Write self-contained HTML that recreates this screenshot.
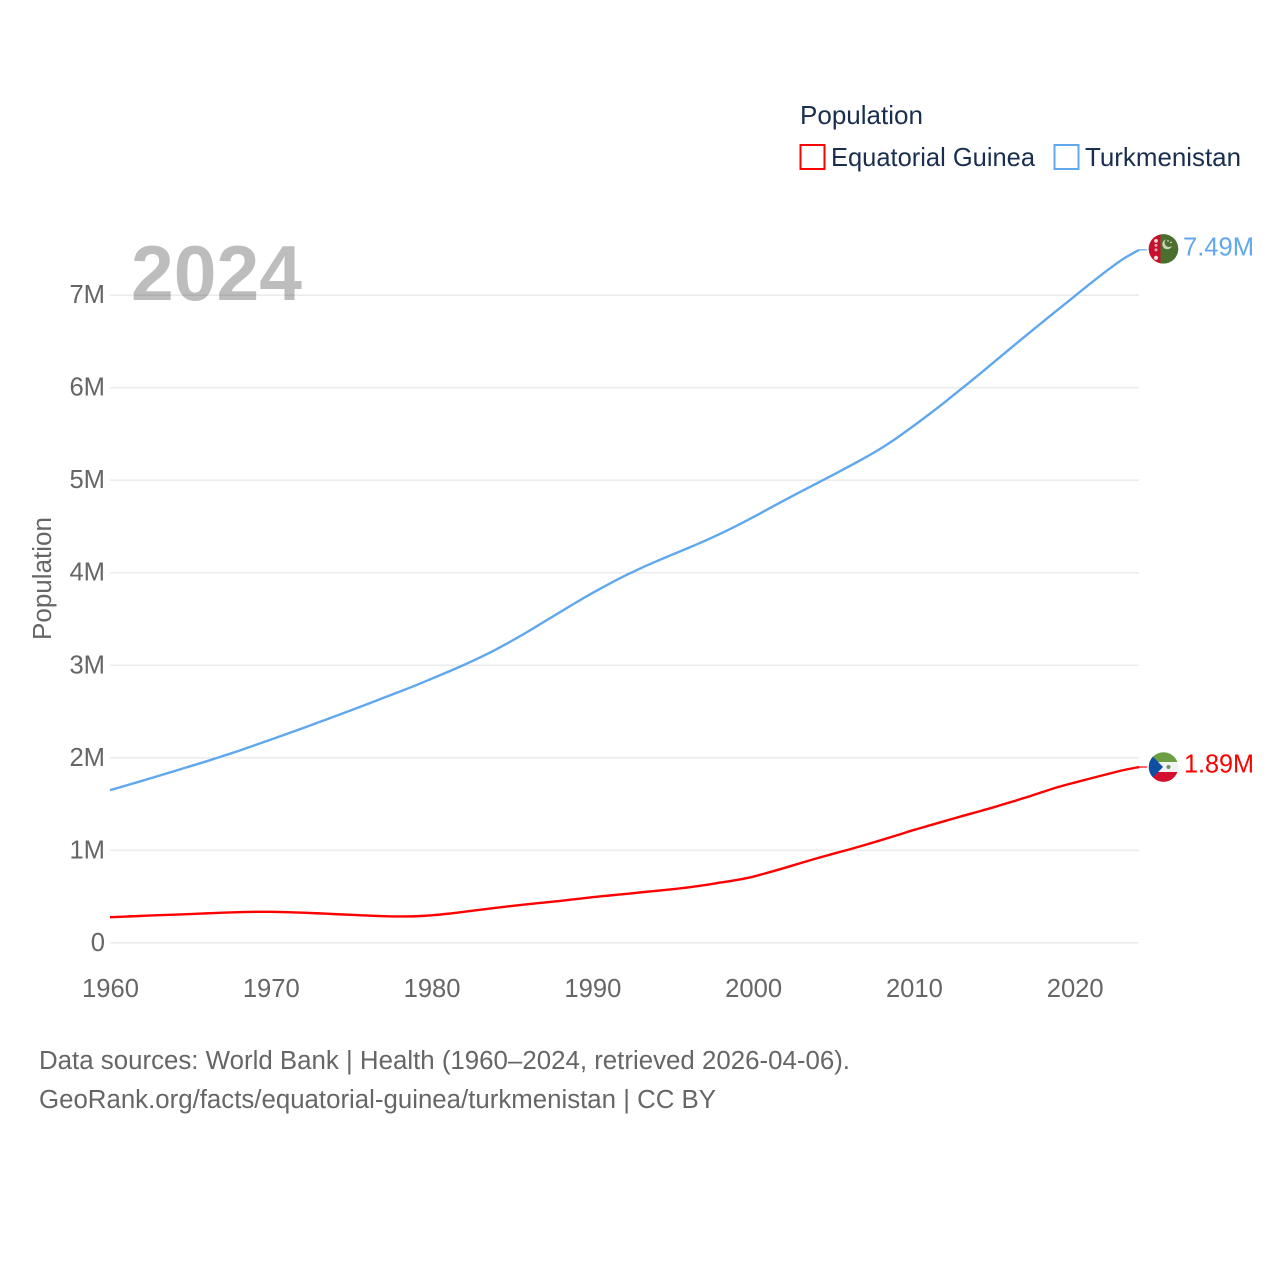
<!DOCTYPE html>
<html lang="en">
<head>
<meta charset="utf-8">
<title>Population: Equatorial Guinea and Turkmenistan</title>
<style>
html,body{margin:0;padding:0;background:#fff}
svg{display:block}
text{font-family:"Liberation Sans",sans-serif}
</style>
</head>
<body>
<svg id="chart" xmlns="http://www.w3.org/2000/svg" width="1280" height="1280" viewBox="0 0 1280 1280">
  <defs>
    <clipPath id="flag-clip"><circle cx="0" cy="0" r="14.8"/></clipPath>
  </defs>
  <rect x="0" y="0" width="1280" height="1280" fill="#ffffff"/>
  <g id="grid"></g>
  <text x="131" y="300" font-size="78" font-weight="700" fill="#000000" fill-opacity="0.26" textLength="171" lengthAdjust="spacingAndGlyphs" style="font-weight:700">2024</text>
  <g id="y-ticks"></g>
  <g id="x-ticks"></g>
  <text transform="translate(51,640) rotate(-90)" font-size="25.5" fill="#666666" textLength="123" lengthAdjust="spacingAndGlyphs">Population</text>
  <g id="series"></g>

  <g id="flag-tm" clip-path="url(#flag-clip)">
    <rect x="-15" y="-15" width="30" height="30" fill="#4a6f2f"/>
    <rect x="-15" y="-15" width="12" height="30" fill="#c8102e"/>
    <circle cx="-7.5" cy="-8" r="1.9" fill="#f2d7d7"/>
    <circle cx="-7.5" cy="-3.5" r="1.5" fill="#dfa9a9"/>
    <circle cx="-7.5" cy="1" r="1.5" fill="#dfa9a9"/>
    <circle cx="-7.5" cy="9" r="2.1" fill="#f2d7d7"/>
    <path d="M2.5,-9.5 a5,5 0 1 0 6,6.5 a4.2,4.2 0 1 1 -6,-6.5 z" fill="#dfe8d0" fill-opacity="0.85"/>
    <circle cx="4.5" cy="-8" r="0.8" fill="#e9efe0"/>
    <circle cx="7.5" cy="-6.5" r="0.8" fill="#e9efe0"/>
  </g>
  <g id="flag-gq" clip-path="url(#flag-clip)">
    <rect x="-15" y="-15" width="30" height="10" fill="#6c9f43"/>
    <rect x="-15" y="-5" width="30" height="10" fill="#f2f2f2"/>
    <rect x="-15" y="5" width="30" height="10" fill="#d3112f"/>
    <path d="M-15,-15 L-0.5,0 L-15,15 z" fill="#0f4fa3"/>
    <circle cx="5" cy="0" r="2" fill="#6d8f60"/>
  </g>

  <g id="end-labels"></g>

  <g id="legend">
    <text x="800" y="124" font-size="26" fill="#1a2f4f" textLength="123" lengthAdjust="spacingAndGlyphs">Population</text>
    <g>
      <rect x="800.5" y="145" width="24" height="24" fill="none" stroke="#ff0000" stroke-width="2"/>
      <text x="831" y="166" font-size="26" fill="#1a2f4f" textLength="204" lengthAdjust="spacingAndGlyphs">Equatorial Guinea</text>
    </g>
    <g>
      <rect x="1054.5" y="145" width="24" height="24" fill="none" stroke="#5fa8ee" stroke-width="2"/>
      <text x="1085" y="166" font-size="26" fill="#1a2f4f" textLength="156" lengthAdjust="spacingAndGlyphs">Turkmenistan</text>
    </g>
  </g>

  <g id="footer">
    <text x="39" y="1069" font-size="25.5" fill="#666666" textLength="811" lengthAdjust="spacingAndGlyphs">Data sources: World Bank | Health (1960–2024, retrieved 2026-04-06).</text>
    <text x="39" y="1108" font-size="25.5" fill="#666666" textLength="677" lengthAdjust="spacingAndGlyphs">GeoRank.org/facts/equatorial-guinea/turkmenistan | CC BY</text>
  </g>
</svg>
<script>
const years = [1960,1961,1962,1963,1964,1965,1966,1967,1968,1969,1970,1971,1972,1973,1974,1975,1976,1977,1978,1979,1980,1981,1982,1983,1984,1985,1986,1987,1988,1989,1990,1991,1992,1993,1994,1995,1996,1997,1998,1999,2000,2001,2002,2003,2004,2005,2006,2007,2008,2009,2010,2011,2012,2013,2014,2015,2016,2017,2018,2019,2020,2021,2022,2023,2024];
const turkmenistanValues = [1.650,1.700,1.751,1.803,1.856,1.909,1.962,2.018,2.075,2.135,2.196,2.258,2.321,2.385,2.449,2.514,2.580,2.647,2.714,2.782,2.854,2.927,3.003,3.083,3.170,3.265,3.365,3.470,3.575,3.680,3.780,3.875,3.965,4.048,4.125,4.198,4.270,4.345,4.425,4.510,4.600,4.695,4.788,4.880,4.970,5.060,5.153,5.248,5.350,5.465,5.590,5.720,5.855,5.995,6.135,6.280,6.425,6.568,6.710,6.850,6.990,7.130,7.265,7.390,7.490];
const equatorialGuineaValues = [0.277,0.284,0.291,0.298,0.304,0.311,0.318,0.325,0.331,0.335,0.335,0.331,0.325,0.318,0.310,0.302,0.294,0.288,0.285,0.287,0.297,0.314,0.335,0.357,0.378,0.398,0.417,0.435,0.453,0.473,0.493,0.510,0.527,0.545,0.562,0.580,0.600,0.624,0.652,0.680,0.715,0.762,0.812,0.864,0.915,0.963,1.010,1.060,1.112,1.165,1.220,1.270,1.320,1.370,1.418,1.467,1.520,1.573,1.630,1.685,1.732,1.777,1.822,1.865,1.900];
const yTickValues = [0,1,2,3,4,5,6,7];
const yTickLabels = ["0","1M","2M","3M","4M","5M","6M","7M"];
const xTickValues = [1960,1970,1980,1990,2000,2010,2020];
const endLabelTurkmenistan = "7.49M";
const endLabelEquatorialGuinea = "1.89M";

const NS = "http://www.w3.org/2000/svg";
const X0 = 110, X1 = 1139, Y0 = 942.8, Y7 = 295.2;
function xScale(year){ return X0 + (year - 1960) * (X1 - X0) / 64; }
function yScale(v){ return Y0 - v * (Y0 - Y7) / 7; }
function svgEl(tag, attrs, parent){
  const el = document.createElementNS(NS, tag);
  for (const k in attrs) el.setAttribute(k, attrs[k]);
  parent.appendChild(el);
  return el;
}

const gridG = document.getElementById("grid");
const yG = document.getElementById("y-ticks");
yTickValues.forEach(function(v, i){
  const line = svgEl("line", {x1:X0, x2:X1, y1:yScale(v), y2:yScale(v), stroke:"#ececec", "stroke-width":1.6}, gridG);
  
  
  const t = svgEl("text", {x:105, y:yScale(v)+8, "text-anchor":"end", "font-size":25.6, fill:"#666666"}, yG);
  t.textContent = yTickLabels[i];
  
  
});

const xG = document.getElementById("x-ticks");
xTickValues.forEach(function(yr){
  const t = svgEl("text", {x:xScale(yr)+0.5, y:997, "text-anchor":"middle", "font-size":25.6, fill:"#666666"}, xG);
  t.textContent = String(yr);
  
  
});

const seriesG = document.getElementById("series");
function linePath(values){
  const pts = values.map(function(v, i){ return [xScale(years[i]), yScale(v)]; });
  let d = "M" + pts[0][0].toFixed(2) + "," + pts[0][1].toFixed(2);
  for (let i = 0; i < pts.length - 1; i++) {
    const p0 = pts[Math.max(i - 1, 0)], p1 = pts[i], p2 = pts[i + 1], p3 = pts[Math.min(i + 2, pts.length - 1)];
    const c1x = p1[0] + (p2[0] - p0[0]) / 6, c1y = p1[1] + (p2[1] - p0[1]) / 6;
    const c2x = p2[0] - (p3[0] - p1[0]) / 6, c2y = p2[1] - (p3[1] - p1[1]) / 6;
    d += " C" + c1x.toFixed(2) + "," + c1y.toFixed(2) + " " + c2x.toFixed(2) + "," + c2y.toFixed(2) + " " + p2[0].toFixed(2) + "," + p2[1].toFixed(2);
  }
  return d;
}

const tmLine = svgEl("path", {d:linePath(turkmenistanValues), fill:"none", stroke:"#5fa8ee", "stroke-width":2.4, "stroke-linejoin":"round"}, seriesG);



const gqLine = svgEl("path", {d:linePath(equatorialGuineaValues), fill:"none", stroke:"#ff0000", "stroke-width":2.4, "stroke-linejoin":"round"}, seriesG);



const tmLast = turkmenistanValues[turkmenistanValues.length - 1];
const gqLast = equatorialGuineaValues[equatorialGuineaValues.length - 1];
const lastX = xScale(years[years.length - 1]);

const tmStub = svgEl("line", {x1:lastX, x2:lastX+8, y1:yScale(tmLast), y2:yScale(tmLast), stroke:"#5fa8ee", "stroke-width":1.2}, seriesG);



const gqStub = svgEl("line", {x1:lastX, x2:lastX+8, y1:yScale(gqLast), y2:yScale(gqLast), stroke:"#ff0000", "stroke-width":1.2}, seriesG);



document.getElementById("flag-tm").setAttribute("transform", "translate(1163.5," + (yScale(tmLast) - 1).toFixed(2) + ")");
document.getElementById("flag-gq").setAttribute("transform", "translate(1163.5," + yScale(gqLast).toFixed(2) + ")");

const labelsG = document.getElementById("end-labels");
const tmLabel = svgEl("text", {x:1183, y:yScale(tmLast)+5.5, "font-size":25.6, fill:"#5fa8ee", textLength:71, lengthAdjust:"spacingAndGlyphs"}, labelsG);
tmLabel.textContent = endLabelTurkmenistan;



const gqLabel = svgEl("text", {x:1184, y:yScale(gqLast)+5.5, "font-size":25.6, fill:"#ff0000", textLength:70, lengthAdjust:"spacingAndGlyphs"}, labelsG);
gqLabel.textContent = endLabelEquatorialGuinea;


</script>
</body>
</html>
